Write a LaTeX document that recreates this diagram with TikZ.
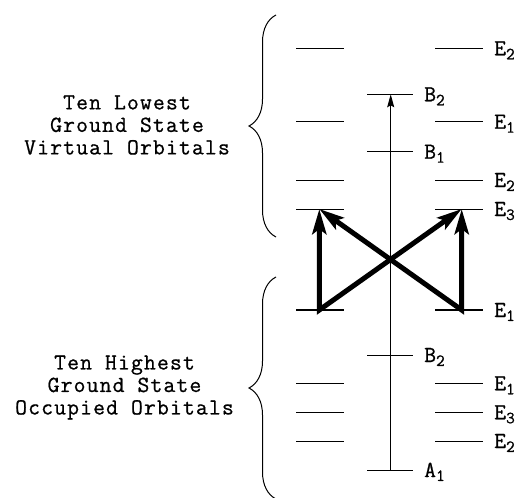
\documentclass[tikz,border=0pt]{standalone}
\usepackage{fontspec}
\setmonofont{Latin Modern Mono}[LetterSpace=5,FakeBold=0.8]
\usetikzlibrary{arrows.meta,decorations.pathreplacing}
\newcommand\sublab[2]{#1\raisebox{-0.4ex}{\fontsize{17}{17}\selectfont#2}}
\begin{document}
\begin{tikzpicture}[x=1pt,y=-1pt,
  lvl/.style={line width=1pt},
  lvlb/.style={line width=1.6pt},
  lab/.style={anchor=base west,inner sep=0pt,font=\ttfamily\fontsize{23}{23}\selectfont},
  blocktext/.style={align=center,inner sep=0pt,font=\ttfamily\fontsize{23}{22.5}\selectfont},
  bigarrow/.style={line width=5pt,{Stealth[length=25pt,width=14pt,inset=5pt]}-{Stealth[length=25pt,width=14pt,inset=5pt]}},
  thinarrow/.style={line width=1pt,-{Stealth[length=13pt,width=7pt,inset=2pt]}},
  bracestyle/.style={line width=1pt,decorate,decoration={brace,amplitude=27pt}}]
\useasboundingbox (0,0) rectangle (521,497);
% upper levels
\draw[lvl] (296,48.3) -- (344,48.3);
\draw[lvl] (435,48.3) -- (483,48.3);
\node[lab] (uE2a) at (494,55.3) {\sublab{E}{2}};
\draw[lvl] (367,94.3) -- (413,94.3);
\coordinate (uB2) at (390.7,94.3);
\node[lab] (uB2l) at (424,101.3) {\sublab{B}{2}};
\draw[lvl] (296,121.7) -- (344,121.7);
\draw[lvl] (435,121.7) -- (483,121.7);
\node[lab] (uE1) at (494,128.7) {\sublab{E}{1}};
\draw[lvl] (367,151.7) -- (413,151.7);
\node[lab] (uB1) at (424,158.7) {\sublab{B}{1}};
\draw[lvl] (296,180) -- (344,180);
\draw[lvl] (435,180) -- (483,180);
\node[lab] (uE2b) at (494,187) {\sublab{E}{2}};
\draw[lvl] (296,209) -- (344,209);
\draw[lvl] (435,209) -- (483,209);
\coordinate (uL3) at (319.3,209);
\coordinate (uR3) at (461.7,209);
\node[lab] (uE3) at (494,216) {\sublab{E}{3}};
% lower levels
\draw[lvlb] (296,310) -- (344,310);
\draw[lvlb] (435,310) -- (483,310);
\coordinate (oL1) at (319.3,310);
\coordinate (oR1) at (461.7,310);
\node[lab] (oE1a) at (494,317) {\sublab{E}{1}};
\draw[lvl] (367,355) -- (413,355);
\node[lab] (oB2) at (424,362) {\sublab{B}{2}};
\draw[lvlb] (296,383.3) -- (344,383.3);
\draw[lvlb] (435,383.3) -- (483,383.3);
\node[lab] (oE1b) at (494,390.3) {\sublab{E}{1}};
\draw[lvlb] (296,412.3) -- (344,412.3);
\draw[lvlb] (435,412.3) -- (483,412.3);
\node[lab] (oE3) at (494,419.3) {\sublab{E}{3}};
\draw[lvl] (296,441) -- (344,441);
\draw[lvl] (435,441) -- (483,441);
\node[lab] (oE2) at (494,448) {\sublab{E}{2}};
\draw[lvl] (367,470) -- (413,470);
\coordinate (oA1) at (390.7,470);
\node[lab] (oA1l) at (424,477) {\sublab{A}{1}};
% transitions
\draw[thinarrow] (oA1) -- (uB2);
\draw[bigarrow,line join=miter] (uL3) -- (oL1) -- (uR3);
\draw[bigarrow,line join=miter] (uR3) -- (oR1) -- (uL3);
% braces
\draw[bracestyle] (276,237) -- (276,15);
\draw[bracestyle] (276,499) -- (276,277);
\node[blocktext] (virt) at (127,125) {Ten Lowest\\Ground State\\Virtual Orbitals};
\node[blocktext] (occ) at (124.5,387.5) {Ten Highest\\Ground State\\Occupied Orbitals};
\end{tikzpicture}
\end{document}
